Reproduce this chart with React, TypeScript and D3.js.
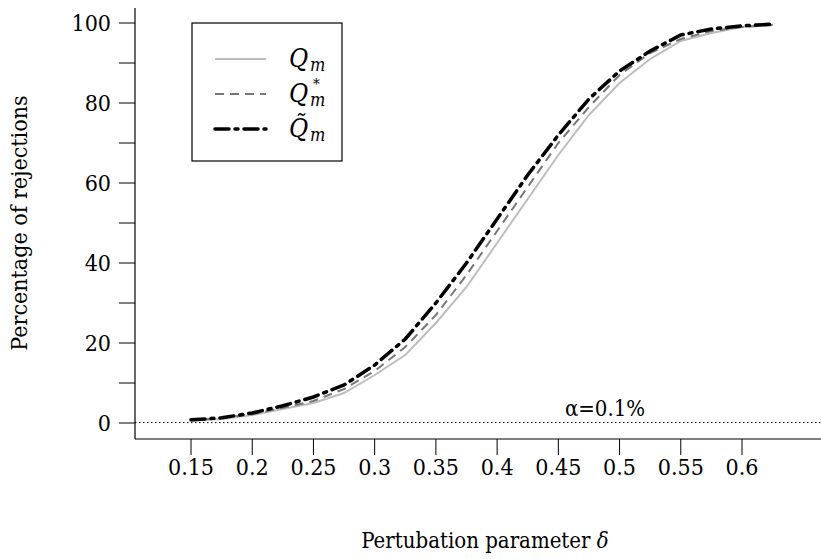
import React, { useEffect, useRef } from 'react'
import * as d3 from 'd3'

const deltas = [
  0.15, 0.175, 0.2, 0.225, 0.25, 0.275, 0.3, 0.325, 0.35, 0.375, 0.4, 0.425, 0.45, 0.475, 0.5,
  0.525, 0.55, 0.575, 0.6, 0.625,
]
const qm = [0.5, 1, 2, 3.5, 5, 7.5, 12, 17, 25, 34, 45, 56, 67, 77, 85, 91, 95.5, 97.5, 99, 99.5]
const qmStar = [0.7, 1.2, 2.2, 3.8, 5.5, 8.5, 13, 19, 27, 37, 48, 59, 70, 79, 87, 92.5, 96, 98, 99, 99.5]
const qmTilde = [0.8, 1.3, 2.5, 4.3, 6.5, 9.5, 14.5, 21, 30, 40, 51, 62, 72, 81, 88, 93, 97, 98.5, 99.3, 99.7]
const xTicks = [0.15, 0.2, 0.25, 0.3, 0.35, 0.4, 0.45, 0.5, 0.55, 0.6]
const yTicks = [0, 10, 20, 30, 40, 50, 60, 70, 80, 90, 100]
const alphaLevel = 0.1

const FONT = "'DejaVu Serif Condensed', 'DejaVu Serif', serif"

function App() {
  const canvas = useRef<SVGSVGElement>(null)

  useEffect(() => {
    const svg = d3.select(canvas.current)
    svg.selectAll('*').remove()
    svg.style('font-family', FONT)

    const xScale = d3.scaleLinear().domain([0.15, 0.6]).range([191, 742])
    const yScale = d3.scaleLinear().domain([0, 100]).range([423, 23])
    const axisLeftX = 135
    const axisBottomY = 439

    // axes
    svg
      .append('line')
      .attr('x1', axisLeftX)
      .attr('x2', axisLeftX)
      .attr('y1', 8)
      .attr('y2', axisBottomY)
      .attr('stroke', '#000')
      .attr('stroke-width', 1.2)
    svg
      .append('line')
      .attr('x1', axisLeftX)
      .attr('x2', 821)
      .attr('y1', axisBottomY)
      .attr('y2', axisBottomY)
      .attr('stroke', '#000')
      .attr('stroke-width', 1.2)

    svg
      .selectAll('.ytick')
      .data(yTicks)
      .enter()
      .append('line')
      .attr('x1', axisLeftX - 16)
      .attr('x2', axisLeftX)
      .attr('y1', (d) => yScale(d))
      .attr('y2', (d) => yScale(d))
      .attr('stroke', '#000')
      .attr('stroke-width', 1)
    svg
      .selectAll('.ylab')
      .data(yTicks.filter((d) => d % 20 === 0))
      .enter()
      .append('text')
      .attr('x', 111)
      .attr('y', (d) => yScale(d) + 8)
      .attr('text-anchor', 'end')
      .attr('font-size', 23)
      .text((d) => d)

    svg
      .selectAll('.xtick')
      .data(xTicks)
      .enter()
      .append('line')
      .attr('x1', (d) => xScale(d))
      .attr('x2', (d) => xScale(d))
      .attr('y1', axisBottomY)
      .attr('y2', axisBottomY + 16)
      .attr('stroke', '#000')
      .attr('stroke-width', 1)
    svg
      .selectAll('.xlab')
      .data(xTicks)
      .enter()
      .append('text')
      .attr('x', (d) => xScale(d))
      .attr('y', 475)
      .attr('text-anchor', 'middle')
      .attr('font-size', 23)
      .text((d) => String(d))

    // axis titles
    svg
      .append('text')
      .attr('transform', `translate(27, 223) rotate(-90)`)
      .attr('text-anchor', 'middle')
      .attr('font-size', 23)
      .text('Percentage of rejections')
    const xt = svg
      .append('text')
      .attr('x', 485)
      .attr('y', 548)
      .attr('text-anchor', 'middle')
      .attr('font-size', 22)
    xt.append('tspan').text('Pertubation parameter ')
    xt.append('tspan').attr('font-style', 'italic').text('δ')

    // alpha reference line
    svg
      .append('line')
      .attr('x1', axisLeftX)
      .attr('x2', 821)
      .attr('y1', yScale(alphaLevel))
      .attr('y2', yScale(alphaLevel))
      .attr('stroke', '#000')
      .attr('stroke-width', 1)
      .attr('stroke-dasharray', '1.5,2.5')
    svg
      .append('text')
      .attr('x', 605)
      .attr('y', 416)
      .attr('text-anchor', 'middle')
      .attr('font-size', 22)
      .text('α=0.1%')

    const series = [
      { values: qm, color: '#bdbdbd', width: 2, dash: null },
      { values: qmStar, color: '#777', width: 2, dash: '9,6' },
      { values: qmTilde, color: '#000', width: 3.5, dash: '14,6,3,6' },
    ]

    const line = d3
      .line<number>()
      .x((d, i) => xScale(deltas[i]))
      .y((d) => yScale(d))

    series.forEach((s) => {
      svg
        .append('path')
        .datum(s.values)
        .attr('d', line)
        .attr('fill', 'none')
        .attr('stroke', s.color)
        .attr('stroke-width', s.width)
        .attr('stroke-dasharray', s.dash)
        .attr('stroke-linecap', s.dash && s.width > 3 ? 'round' : 'butt')
    })

    // legend
    const lg = svg.append('g')
    lg.append('rect')
      .attr('x', 192)
      .attr('y', 23)
      .attr('width', 150)
      .attr('height', 138)
      .attr('fill', '#fff')
      .attr('stroke', '#000')
      .attr('stroke-width', 1.2)
    const rows = [59, 94, 129]
    series.forEach((s, i) => {
      lg.append('line')
        .attr('x1', 215)
        .attr('x2', 266)
        .attr('y1', rows[i])
        .attr('y2', rows[i])
        .attr('stroke', s.color)
        .attr('stroke-width', s.width)
        .attr('stroke-dasharray', s.dash)
        .attr('stroke-linecap', s.dash && s.width > 3 ? 'round' : 'butt')
    })

    // Q_m
    const t0 = lg.append('text').attr('x', 289).attr('y', rows[0] + 8).attr('font-style', 'italic')
    t0.append('tspan').attr('font-size', 26).text('Q')
    t0.append('tspan').attr('x', 310).attr('dy', 4).attr('font-size', 18).text('m')

    // Q*_m
    const t1 = lg.append('text').attr('x', 289).attr('y', rows[1] + 8).attr('font-style', 'italic')
    t1.append('tspan').attr('font-size', 26).text('Q')
    t1.append('tspan').attr('x', 313).attr('dy', -13).attr('font-style', 'normal').attr('font-size', 15).text('*')
    t1.append('tspan').attr('x', 310).attr('dy', 17).attr('font-size', 18).text('m')

    // Q~_m
    const t2 = lg.append('text').attr('x', 289).attr('y', rows[2] + 8).attr('font-style', 'italic')
    t2.append('tspan').attr('font-size', 26).text('Q\u0303')
    t2.append('tspan').attr('x', 310).attr('dy', 4).attr('font-size', 18).text('m')
  }, [])

  return (
    <svg
      ref={canvas}
      width={821}
      height={559}
      style={{ position: 'absolute', left: 0, top: 0, background: '#fff' }}
    />
  )
}

export default App
